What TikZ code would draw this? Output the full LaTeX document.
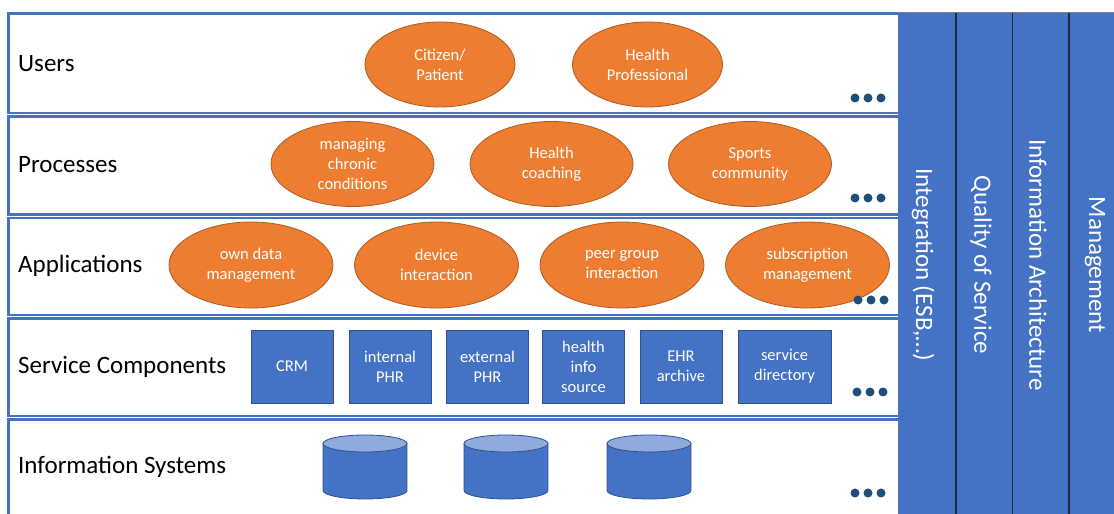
\documentclass[tikz,border=0pt]{standalone}
\usepackage{fontspec}
\setmainfont{Carlito}
\usetikzlibrary{shapes.geometric}
\definecolor{ablue}{HTML}{4472C4}
\definecolor{dblue}{HTML}{2F528F}
\definecolor{aorange}{HTML}{ED7D31}
\definecolor{dorange}{HTML}{AE5A21}
\definecolor{dotblue}{HTML}{1F4E79}
\definecolor{lblue}{HTML}{8FAADC}
\definecolor{divider}{HTML}{1F2A3C}
\begin{document}
\begin{tikzpicture}[x=1pt,y=1pt,
  layer/.style={draw=ablue, line width=2.6pt, fill=white},
  rowlabel/.style={anchor=west, font=\fontsize{25}{30}\selectfont, text=black, inner sep=0pt},
  oval/.style={ellipse, draw=dorange, line width=0.8pt, fill=aorange, text=white, align=center,
    font=\fontsize{16.5}{20}\selectfont, inner sep=0pt, minimum height=85pt},
  comp/.style={rectangle, draw=dblue, line width=0.8pt, fill=ablue, text=white, align=center,
    font=\fontsize{16.5}{20}\selectfont, minimum height=73pt, minimum width=82pt, inner sep=0pt},
  coltext/.style={rotate=-90, text=white, font=\fontsize{25}{30}\selectfont, inner sep=0pt},
  dotmark/.style={circle, fill=dotblue, minimum size=9pt, inner sep=0pt},
  cylbody/.style={fill=ablue},
  cylline/.style={draw=dblue, line width=0.8pt},
]
\useasboundingbox (0,0) rectangle (1114,514);
\begin{scope}
\clip (0,0) rectangle (1114,514);
% layers
\draw[layer] (8.5,500.5) rectangle (900,401);
\draw[layer] (8.5,397.5) rectangle (900,299.5);
\draw[layer] (8.5,296) rectangle (900,199);
\draw[layer] (8.5,195.5) rectangle (900,98);
\draw[layer] (8.5,94.5) rectangle (900,-5);
% columns
\fill[ablue] (898,501) rectangle (1120,-5);
\draw[gray, line width=0.8pt] (898,501.5) -- (1114,501.5);
\foreach \xx in {956,1012.5,1069} {
  \draw[divider, line width=1.8pt] (\xx,501) -- (\xx,-5);
}
% row labels
\node[rowlabel] (lusers) at (18,450) {Users};
\node[rowlabel] (lproc) at (18,349) {Processes};
\node[rowlabel] (lapps) at (18,248) {Applications};
\node[rowlabel] (lserv) at (18,147) {Service Components};
\node[rowlabel] (linfo) at (18,47) {Information Systems};
% users
\node[oval, minimum width=150pt] (citizen) at (440,449.5) {Citizen/\\Patient};
\node[oval, minimum width=150pt] (hprof) at (647.5,449.5) {Health\\Professional};
% processes
\node[oval, minimum width=163pt] (chronic) at (352.5,350) {managing\\chronic\\conditions};
\node[oval, minimum width=163pt] (coach) at (551.5,350) {Health\\coaching};
\node[oval, minimum width=163pt] (sports) at (750,350) {Sports\\community};
% applications
\node[oval, minimum width=164pt, minimum height=86pt] (owndata) at (251,249) {own data\\management};
\node[oval, minimum width=164pt, minimum height=86pt] (device) at (436.5,249) {device\\interaction};
\node[oval, minimum width=164pt, minimum height=86pt] (peer) at (622,249) {peer group\\interaction};
\node[oval, minimum width=164pt, minimum height=86pt] (subscr) at (807.5,249) {subscription\\management};
% service components
\node[comp] (crm) at (292,147.5) {CRM};
\node[comp] (iphr) at (390,147.5) {internal\\PHR};
\node[comp] (ephr) at (487.5,147.5) {external\\PHR};
\node[comp] (hinfo) at (583.5,147.5) {health\\info\\source};
\node[comp] (ehr) at (681,147.5) {EHR\\archive};
\node[comp, minimum width=93pt] (sdir) at (784.5,147.5) {service\\directory};
% information systems (cylinders)
\foreach \cx in {365,506,649} {
  \fill[cylbody] (\cx-42,70.5) rectangle (\cx+42,23.5);
  \fill[cylbody] (\cx,23.5) ellipse [x radius=42, y radius=8.5];
  \draw[cylline] (\cx-42,70.5) -- (\cx-42,23.5)
     arc [start angle=180, end angle=360, x radius=42, y radius=8.5] -- (\cx+42,70.5);
  \draw[cylline, fill=lblue] (\cx,70.5) ellipse [x radius=42, y radius=8.5];
}
% dots
\foreach \yy/\dx/\nm in {416/0/u, 316/0/p, 214/3/a, 122/2/s, 21/0/i} {
  \node[dotmark] (dot\nm1) at (855+\dx,\yy) {};
  \node[dotmark] (dot\nm2) at (868+\dx,\yy) {};
  \node[dotmark] (dot\nm3) at (881+\dx,\yy) {};
}
% column texts
\node[coltext] (cint) at (923,249) {Integration (ESB,…)};
\node[coltext] (cqos) at (981,249) {Quality of Service};
\node[coltext] (cia) at (1038,249) {Information Architecture};
\node[coltext] (cman) at (1095,249) {Management};
\end{scope}
\end{tikzpicture}
\end{document}
